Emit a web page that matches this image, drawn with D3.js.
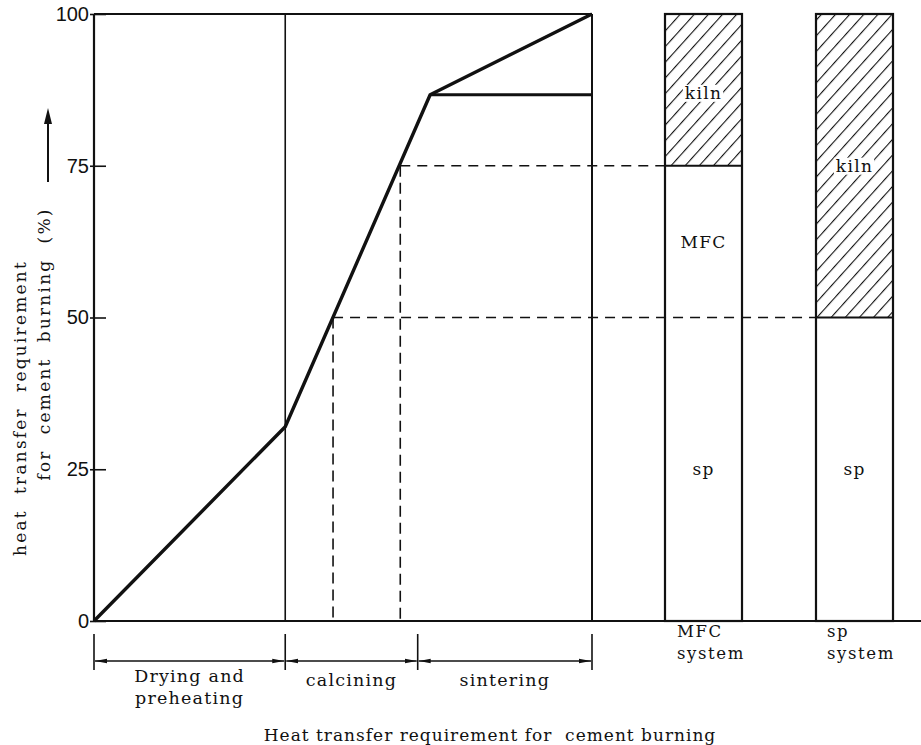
<!DOCTYPE html>
<html><head><meta charset="utf-8">
<script src="https://cdn.jsdelivr.net/npm/d3@7"></script>
<style>body{margin:0;background:#fff}svg{display:block}text{white-space:pre}</style>
</head><body>
<svg id="c" width="921" height="745"></svg>
<script>
// ---- data ----
const yTicks = [0, 25, 50, 75, 100];
const curveX = [0, 38.4, 67.5, 100];
const curveY = [0, 32, 86.7, 100];
const plateauFrom = 67.5;
const plateauY = 86.7;
const dashY = [50, 75];
const dashX = [48, 61.5];
const dashTo = ["sp system", "MFC system"];
const stageBounds = [0, 38.4, 65, 100];
const stageLabels = [["Drying and", "preheating"], ["calcining"], ["sintering"]];
const systems = ["MFC system", "sp system"];
const systemLines = [["MFC", "system"], ["sp", "system"]];
const mfcSegments = [{label: "sp", from: 0, to: 50}, {label: "MFC", from: 50, to: 75}, {label: "kiln", from: 75, to: 100}];
const spSegments = [{label: "sp", from: 0, to: 50}, {label: "kiln", from: 50, to: 100}];
const yTitle = ["heat  transfer  requirement", "for  cement  burning  (%)"];
const xTitle = "Heat transfer requirement for  cement burning";

// ---- scales ----
const svg = d3.select("#c");
const x = d3.scaleLinear([0, 100], [94, 592]);
const y = d3.scaleLinear([0, 100], [621, 14]);
const bx = d3.scaleBand(systems, [589.5, 968.5]).paddingInner(0.49).paddingOuter(0.5);
const serif = "'DejaVu Serif', 'Liberation Serif', serif";
const ink = "#111";

// hatch pattern
const defs = svg.append("defs");
defs.append("pattern").attr("id", "hatch").attr("patternUnits", "userSpaceOnUse")
  .attr("width", 10.5).attr("height", 10.5).attr("patternTransform", "rotate(42)")
  .append("line").attr("x1", 0).attr("y1", -2).attr("x2", 0).attr("y2", 13)
  .attr("stroke", ink).attr("stroke-width", 2.2);

// ---- frame ----
const g = svg.append("g");
const line = (x1, y1, x2, y2, w, dash) => g.append("line")
  .attr("x1", x1).attr("y1", y1).attr("x2", x2).attr("y2", y2)
  .attr("stroke", ink).attr("stroke-width", w).attr("stroke-dasharray", dash || null);

line(x(0), y(0), x(0), y(100), 2.2);
line(x(0), y(100), x(100), y(100), 2.2);
line(x(100), y(100), x(100), y(0), 2);
line(x(0), y(0), 921, y(0), 2);
line(x(curveX[1]), y(0), x(curveX[1]), y(100), 1.6);

// y axis ticks + labels
const ax = d3.axisLeft(y).tickValues(yTicks).tickSizeInner(-12).tickSizeOuter(0).tickPadding(6)
  .tickFormat(d3.format("d"));
const axg = svg.append("g").attr("transform", `translate(${x(0)},0)`).call(ax);
axg.select(".domain").remove();
axg.selectAll(".tick line").attr("stroke", ink).attr("stroke-width", 1.6).attr("x1", -4);
axg.selectAll(".tick text").attr("font-family", "'Liberation Sans Narrow','Liberation Sans',Arial,sans-serif")
  .attr("font-size", 20).attr("fill", ink).attr("x", -5);

// dashed guides
dashY.forEach((v, i) => {
  line(x(dashX[i]), y(v), x(dashX[i]), y(0), 1.6, "11,6");
  line(x(dashX[i]), y(v), bx(dashTo[i]), y(v), 1.6, "10,7");
});

// curve
const pts = curveX.map((d, i) => [x(d), y(curveY[i])]);
g.append("path").attr("d", d3.line()(pts)).attr("fill", "none").attr("stroke", ink)
  .attr("stroke-width", 3.4).attr("stroke-linejoin", "round");
line(x(plateauFrom), y(plateauY), x(100), y(plateauY), 3.2);

// ---- stacked system bars ----
[mfcSegments, spSegments].forEach((segs, i) => {
  const sys = systems[i];
  const bg = svg.append("g");
  const kiln = segs.find(s => s.label === "kiln");
  bg.append("rect").attr("x", bx(sys)).attr("y", y(kiln.to)).attr("width", bx.bandwidth())
    .attr("height", y(kiln.from) - y(kiln.to)).attr("fill", "url(#hatch)");
  bg.append("rect").attr("x", bx(sys)).attr("y", y(100)).attr("width", bx.bandwidth())
    .attr("height", y(0) - y(100)).attr("fill", "none").attr("stroke", ink).attr("stroke-width", 2.2);
  bg.append("line").attr("x1", bx(sys)).attr("x2", bx(sys) + bx.bandwidth())
    .attr("y1", y(kiln.from)).attr("y2", y(kiln.from)).attr("stroke", ink).attr("stroke-width", 2);
  segs.forEach(s => {
    const cx = bx(sys) + bx.bandwidth() / 2, cy = y((s.from + s.to) / 2) + (s.label === "kiln" && i === 0 ? 3 : 0);
    const t = bg.append("text").attr("x", cx).attr("y", cy).attr("dy", "0.35em")
      .attr("text-anchor", "middle").attr("font-family", serif).attr("font-size", 17)
      .attr("letter-spacing", 1.3).attr("fill", ink).text(s.label);
    if (s.label === "kiln") {
      const b = t.node().getBBox();
      bg.insert("rect", "text").attr("x", b.x - 2).attr("y", b.y + 2).attr("width", b.width + 3)
        .attr("height", b.height - 3).attr("fill", "#fff");
    }
  });
  const tl = svg.append("text").attr("font-family", serif).attr("font-size", 16.5)
    .attr("letter-spacing", 1.6).attr("fill", ink);
  systemLines[i].forEach((s, k) => tl.append("tspan").attr("x", bx(sys) + (i === 0 ? 12 : 11))
    .attr("y", 637 + k * 22).text(s));
});

// ---- stage annotations ----
const arrowY = 661;
defs.append("marker").attr("id", "ah").attr("viewBox", "0 0 12 6").attr("refX", 12).attr("refY", 3)
  .attr("markerWidth", 12).attr("markerHeight", 6).attr("markerUnits", "userSpaceOnUse")
  .attr("orient", "auto-start-reverse").append("path").attr("d", "M0,0.8L12,3L0,5.2Z").attr("fill", ink);
stageBounds.forEach(b => line(x(b), 634, x(b), 670, 1.6));
stageLabels.forEach((lab, i) => {
  g.append("line").attr("x1", x(stageBounds[i]) + 1).attr("x2", x(stageBounds[i + 1]) - 1)
    .attr("y1", arrowY).attr("y2", arrowY).attr("stroke", ink).attr("stroke-width", 1.6)
    .attr("marker-start", "url(#ah)").attr("marker-end", "url(#ah)");
  const cx = (x(stageBounds[i]) + x(stageBounds[i + 1])) / 2;
  const t = svg.append("text").attr("font-family", serif).attr("font-size", 17.5)
    .attr("letter-spacing", 1.2).attr("text-anchor", "middle").attr("fill", ink);
  lab.forEach((s, k) => t.append("tspan").attr("x", cx).attr("y", (lab.length > 1 ? 682 : 686) + k * 22).text(s));
});

// ---- titles ----
svg.append("text").attr("x", 490).attr("y", 741).attr("text-anchor", "middle")
  .attr("font-family", serif).attr("font-size", 17).attr("letter-spacing", 1.0)
  .attr("fill", ink).text(xTitle);
const yt = svg.append("text").attr("transform", "translate(20,0) rotate(-90)")
  .attr("font-family", serif).attr("font-size", 17).attr("letter-spacing", 2.2)
  .attr("fill", ink).attr("text-anchor", "middle");
yt.append("tspan").attr("x", -408).attr("y", 6).text(yTitle[0]);
yt.append("tspan").attr("x", -344).attr("y", 30).text(yTitle[1]);

// vertical arrow
line(48, 182, 48, 122, 2);
svg.append("path").attr("d", "M44,124L48,108L52,124Z").attr("fill", ink);
</script>
</body></html>
